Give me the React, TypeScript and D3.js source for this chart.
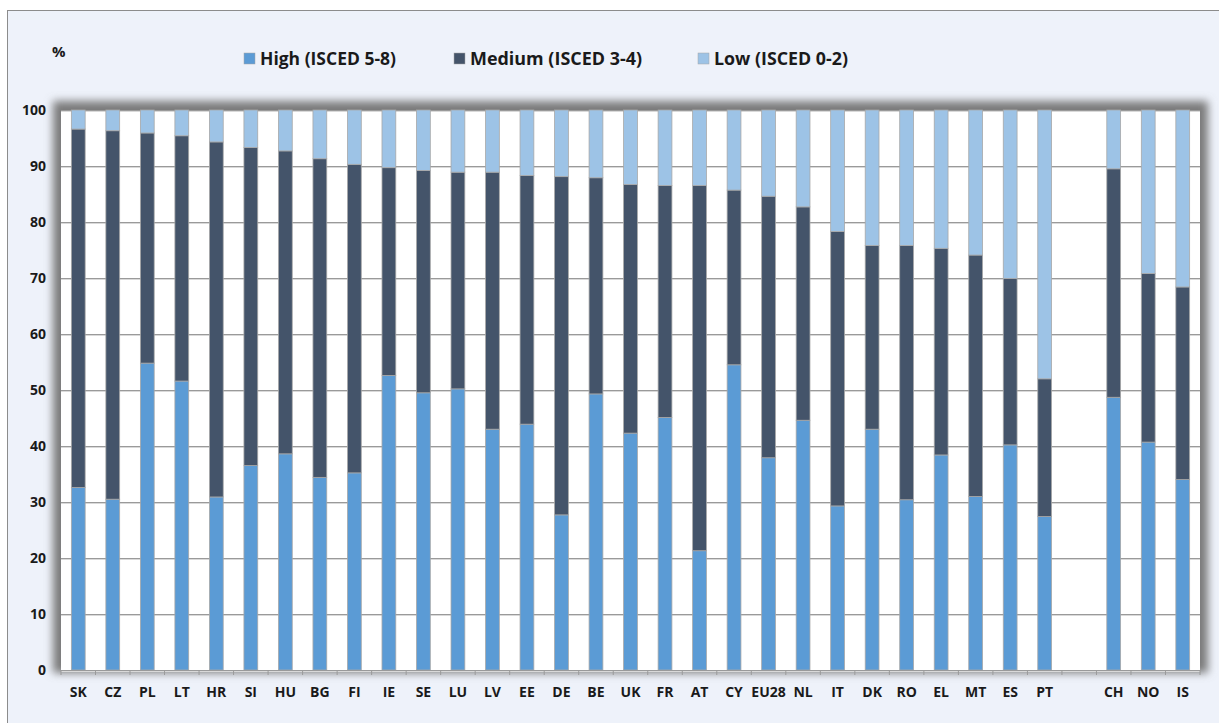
import React from "react";
import * as d3 from "d3";

const categories = ["SK","CZ","PL","LT","HR","SI","HU","BG","FI","IE","SE","LU","LV","EE","DE","BE","UK","FR","AT","CY","EU28","NL","IT","DK","RO","EL","MT","ES","PT","","CH","NO","IS"];
const high = [32.6,30.5,54.8,51.6,30.9,36.5,38.6,34.4,35.2,52.6,49.5,50.2,43.0,43.9,27.7,49.3,42.3,45.1,21.3,54.5,37.9,44.6,29.3,43.0,30.4,38.4,31.0,40.2,27.4,null,48.7,40.7,34.0];
const medium = [64.0,65.8,41.1,43.8,63.4,56.8,54.1,56.9,55.1,37.1,39.7,38.7,45.9,44.4,60.4,38.6,44.4,41.4,65.2,31.2,46.7,38.1,49.0,32.8,45.4,36.9,43.1,29.7,24.6,null,40.8,30.1,34.4];
const low = [3.4,3.7,4.1,4.6,5.7,6.7,7.3,8.7,9.7,10.3,10.8,11.1,11.1,11.7,11.9,12.1,13.3,13.5,13.5,14.3,15.4,17.3,21.7,24.2,24.2,24.7,25.9,30.1,48.0,null,10.5,29.2,31.6];
const yTicks = [0,10,20,30,40,50,60,70,80,90,100];
const seriesNames = ["High (ISCED 5-8)","Medium (ISCED 3-4)","Low (ISCED 0-2)"];
const seriesColors = ["#5B9BD5","#44546A","#9DC3E6"];

const W = 1219, H = 723;
const L = 61, R = 1200, T = 110, B = 670;
const FONT = "'Open Sans', 'Noto Sans', sans-serif";

export default function App() {
  const keys = categories.map((c, i) => `k${i}`);
  const x = d3.scaleBand<string>().domain(keys).range([L, R]).paddingInner(0).paddingOuter(0);
  const y = d3.scaleLinear().domain([0, 100]).range([B, T]);
  const bw = x.bandwidth() * 0.4;

  const rows = categories.map((c, i) => ({ key: keys[i], label: c, high: high[i], medium: medium[i], low: low[i] }));
  const stack = d3.stack<any>().keys(["high", "medium", "low"]).value((d: any, k: string) => d[k] ?? 0);
  const stacked = stack(rows);

  const legendX = [244, 454, 698];
  const legendW = [136, 172, 134];

  return (
    <svg width={W} height={H} style={{ position: "absolute", left: 0, top: 0, fontFamily: FONT }}>
      <defs>
        <filter id="shadow" x="-5%" y="-10%" width="110%" height="120%">
          <feGaussianBlur stdDeviation="4" />
        </filter>
      </defs>
      <rect x={0} y={0} width={W} height={H} fill="#ffffff" />
      <rect x={7.5} y={10.5} width={W + 10} height={H + 10} fill="#EEF2FA" stroke="#8c8c8c" strokeWidth={1} />

      <text x={52} y={57} fontSize={15} fontWeight={700} fill="#1a1a1a">%</text>
      {seriesNames.map((s, i) => (
        <g key={s}>
          <rect x={legendX[i]} y={53} width={11} height={11} fill={seriesColors[i]} stroke="#a6a6a6" strokeWidth={0.5} />
          <text x={legendX[i] + 16} y={64.5} fontSize={17} fontWeight={700} fill="#1a1a1a" textLength={legendW[i]} lengthAdjust="spacingAndGlyphs">{s}</text>
        </g>
      ))}

      {/* plot shadow */}
      <rect x={L - 8} y={T - 9} width={R - L + 16} height={B - T + 12} fill="#7a7a7a" filter="url(#shadow)" />
      <rect x={L} y={T} width={R - L} height={B - T} fill="#ffffff" />

      {yTicks.map(t => (
        <g key={t}>
          <line x1={L} x2={R} y1={y(t) + 1.5} y2={y(t) + 1.5} stroke="#d9d9d9" strokeWidth={1} />
          <line x1={L} x2={R} y1={y(t) + 0.5} y2={y(t) + 0.5} stroke="#9a9a9a" strokeWidth={1} />
          <text x={46} y={y(t) + 5} fontSize={14} fontWeight={700} textAnchor="end" fill="#1a1a1a">{t}</text>
        </g>
      ))}

      {stacked.map((layer, si) => (
        <g key={si} fill={seriesColors[si]}>
          {layer.map((d: any, i: number) => {
            if (rows[i].high == null) return null;
            const x0 = (x(rows[i].key) as number) + (x.bandwidth() - bw) / 2;
            return (
              <rect key={i} x={x0} y={y(d[1])} width={bw} height={y(d[0]) - y(d[1])} stroke="#a8a8a8" strokeWidth={0.8} />
            );
          })}
        </g>
      ))}

      <line x1={L} x2={R} y1={B + 0.5} y2={B + 0.5} stroke="#9a9a9a" strokeWidth={1} />
      {d3.range(keys.length + 1).map(i => {
        const xx = L + i * x.bandwidth();
        return <line key={i} x1={xx} x2={xx} y1={B} y2={B + 5} stroke="#9a9a9a" strokeWidth={1} />;
      })}
      {rows.map(r => (
        <text key={r.key} x={(x(r.key) as number) + x.bandwidth() / 2} y={697} fontSize={14} fontWeight={700} textAnchor="middle" fill="#1a1a1a">{r.label}</text>
      ))}
    </svg>
  );
}
